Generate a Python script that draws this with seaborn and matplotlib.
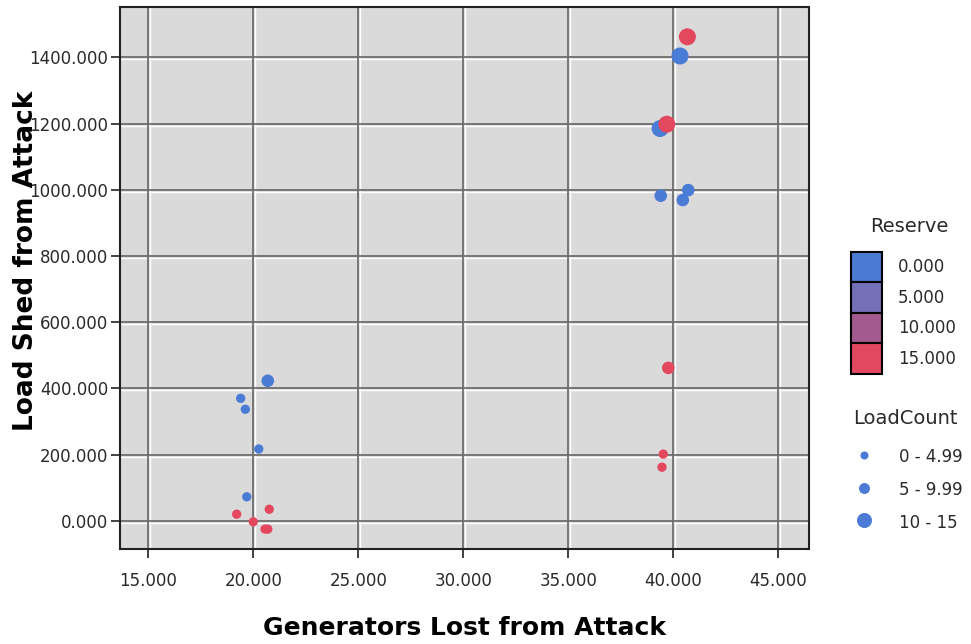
import numpy as np
import pandas as pd
import matplotlib
matplotlib.use("Agg")
import matplotlib.pyplot as plt
import seaborn as sns
from matplotlib.patches import Patch
from matplotlib.lines import Line2D
from matplotlib.transforms import ScaledTranslation

# ---- data ----
generators_lost = [40.32, 39.37, 40.71, 39.40, 40.45, 20.69, 19.40, 19.62, 20.26, 19.69,
                   40.67, 39.69, 39.76, 39.52, 39.46, 20.76, 19.21, 20.00, 20.56, 20.69]
load_shed = [1404, 1185, 999, 982, 969, 423, 370, 337, 217, 72.5,
             1462, 1198, 462, 201.5, 162, 35, 20, -3, -25, -25]
reserve = [0, 0, 0, 0, 0, 0, 0, 0, 0, 0,
           15, 15, 15, 15, 15, 15, 15, 15, 15, 15]
load_count = ["10 - 15", "10 - 15", "5 - 9.99", "5 - 9.99", "5 - 9.99", "5 - 9.99",
              "0 - 4.99", "0 - 4.99", "0 - 4.99", "0 - 4.99",
              "10 - 15", "10 - 15", "5 - 9.99", "0 - 4.99", "0 - 4.99",
              "0 - 4.99", "0 - 4.99", "0 - 4.99", "0 - 4.99", "0 - 4.99"]

reserve_levels = ["0.000", "5.000", "10.000", "15.000"]
reserve_colors = ["#4a7bd3", "#7370b8", "#a35a8f", "#e2485f"]
loadcount_levels = ["0 - 4.99", "5 - 9.99", "10 - 15"]
x_ticks = [15, 20, 25, 30, 35, 40, 45]
y_ticks = [0, 200, 400, 600, 800, 1000, 1200, 1400]

df = pd.DataFrame({"Generators": generators_lost, "LoadShed": load_shed,
                   "Reserve": reserve, "LoadCount": load_count})

sns.set_style("white")
plt.rcParams["font.family"] = ["DejaVu Sans"]

W, H, DPI = 971, 644, 100
fig = plt.figure(figsize=(W / DPI, H / DPI), dpi=DPI)
ax = fig.add_axes([119.5 / W, 1 - 549.3 / H, (809 - 119.5) / W, (549.3 - 7) / H])
ax.set_facecolor("#dadada")

pt_blue, pt_red = "#4a7bd5", "#e4485f"
sns.scatterplot(data=df, x="Generators", y="LoadShed", hue="Reserve",
                palette={0: pt_blue, 15: pt_red}, size="LoadCount",
                sizes={"0 - 4.99": 45, "5 - 9.99": 82, "10 - 15": 150},
                size_order=loadcount_levels, linewidth=0, legend=False,
                ax=ax, zorder=5)

ax.set_xlim(13.63, 46.46)
ax.set_ylim(-86, 1552)
ax.set_xticks(x_ticks)
ax.set_yticks(y_ticks)
ax.set_xticklabels([f"{v:.3f}" for v in x_ticks])
ax.set_yticklabels([f"{v:.3f}" for v in y_ticks])

# grid: dark line with a thin white highlight next to it
off_x = ScaledTranslation(2 / DPI, 0, fig.dpi_scale_trans)
off_y = ScaledTranslation(0, -2 / DPI, fig.dpi_scale_trans)
for v in x_ticks:
    ax.plot([v, v], [0, 1], color="white", lw=1.0, zorder=0.9,
            transform=ax.get_xaxis_transform() + off_x)
    ax.axvline(v, color="#6e6e6e", lw=1.3, zorder=1)
for v in y_ticks:
    ax.plot([0, 1], [v, v], color="white", lw=1.0, zorder=0.9,
            transform=ax.get_yaxis_transform() + off_y)
    ax.axhline(v, color="#6e6e6e", lw=1.3, zorder=1)

for s in ax.spines.values():
    s.set_color("#222222")
    s.set_linewidth(1.5)
    s.set_visible(True)

ax.tick_params(axis="both", which="major", direction="out", color="#333333",
               width=1.3, length=6.5, labelsize=12, labelcolor="#2a2a2a",
               bottom=True, left=True)
ax.tick_params(axis="x", pad=10)
ax.tick_params(axis="y", pad=1.5)

ax.set_xlabel("Generators Lost from Attack", fontsize=18, fontweight="bold",
              color="black")
ax.set_ylabel("Load Shed from Attack", fontsize=19, fontweight="bold",
              color="black")
ax.xaxis.set_label_coords(0.5, -0.123)
ax.yaxis.set_label_coords(-0.117, 0.532)

# ---- legends ----
fs = 12 * DPI / 72
reserve_handles = [Patch(facecolor=c, edgecolor="black", linewidth=1.5, label=l)
                   for c, l in zip(reserve_colors, reserve_levels)]
leg1 = fig.legend(handles=reserve_handles, loc="upper left",
                  bbox_to_anchor=(851 / W, 1 - 252 / H), frameon=False,
                  borderpad=0, borderaxespad=0, labelspacing=0,
                  handlelength=30.7 / fs, handleheight=2.43,
                  handletextpad=16 / fs, fontsize=12)
fig.text(909 / W, 1 - 227 / H, "Reserve", ha="center", va="center",
         fontsize=14, color="#2a2a2a")

msizes = [5.8, 7.9, 10.8]
lc_handles = [Line2D([], [], marker="o", linestyle="", color=pt_blue,
                     markeredgewidth=0, markersize=m, label=l)
              for m, l in zip(msizes, loadcount_levels)]
leg2 = fig.legend(handles=lc_handles, loc="upper left",
                  bbox_to_anchor=(856 / W, 1 - 448 / H), frameon=False,
                  borderpad=0, borderaxespad=0, labelspacing=0.87,
                  handlelength=1.0, handleheight=1.2,
                  handletextpad=1.58, fontsize=12)
fig.text(905 / W, 1 - 418 / H, "LoadCount", ha="center", va="center",
         fontsize=14, color="#2a2a2a")
for leg in (leg1, leg2):
    for t in leg.get_texts():
        t.set_color("#2a2a2a")

fig.savefig("out.png", dpi=DPI)
